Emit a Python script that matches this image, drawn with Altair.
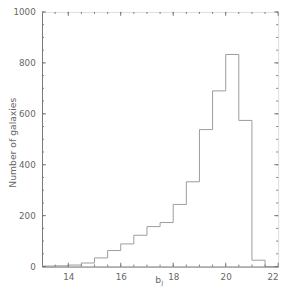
import altair as alt
import pandas as pd

# Histogram of b_J magnitudes (bin width 0.5)
bin_left = [13.0, 13.5, 14.0, 14.5, 15.0, 15.5, 16.0, 16.5, 17.0, 17.5,
            18.0, 18.5, 19.0, 19.5, 20.0, 20.5, 21.0, 21.5, 22.0]
counts = [2, 3, 6, 14, 34, 63, 89, 123, 157, 173,
          244, 333, 538, 690, 833, 574, 25, 0, 0]

x_major = [14, 16, 18, 20, 22]
x_minor = [13.5 + 0.5 * i for i in range(17)]
y_major = [0, 200, 400, 600, 800, 1000]
y_minor = [50 * i for i in range(21)]

W, H = 243, 262
AX = "#777777"
TXT = "#666666"
LINE = "#9a9a9a"
FONT = "DejaVu Sans"

hist = pd.DataFrame({"mag": bin_left, "n": counts})
xmaj = pd.DataFrame({"v": x_major})
xmin = pd.DataFrame({"v": x_minor})
ymaj = pd.DataFrame({"v": y_major})
ymin = pd.DataFrame({"v": y_minor})

xs = alt.Scale(domain=[13, 22], nice=False, zero=False)
ys = alt.Scale(domain=[0, 1000], nice=False)

base = alt.Chart(hist).mark_line(interpolate="step-after", color=LINE, strokeWidth=1).encode(
    x=alt.X("mag:Q", scale=xs,
            axis=alt.Axis(values=x_major, ticks=False, grid=False, title=None,
                          labelFontSize=9, labelColor=TXT, labelFont=FONT,
                          labelPadding=6, domainColor=AX, format="d")),
    y=alt.Y("n:Q", scale=ys,
            axis=alt.Axis(values=y_major, ticks=False, grid=False,
                          title="Number of galaxies", titleFontSize=9.5,
                          titleFontWeight="normal", titleColor=TXT, titleFont=FONT,
                          titleX=-30, titleY=H / 2 + 3, titleAngle=270,
                          titleAlign="center", titleBaseline="middle",
                          labelFontSize=9, labelColor=TXT, labelFont=FONT,
                          labelPadding=7, domainColor=AX, format="d")),
)

def xticks(df, length):
    bot = alt.Chart(df).mark_rule(color=AX, strokeWidth=1).encode(
        x=alt.X("v:Q", scale=xs), y=alt.value(H), y2=alt.value(H - length))
    top = alt.Chart(df).mark_rule(color=AX, strokeWidth=1).encode(
        x=alt.X("v:Q", scale=xs), y=alt.value(0), y2=alt.value(length))
    return bot + top

def yticks(df, length):
    left = alt.Chart(df).mark_rule(color=AX, strokeWidth=1).encode(
        y=alt.Y("v:Q", scale=ys), x=alt.value(0), x2=alt.value(length))
    right = alt.Chart(df).mark_rule(color=AX, strokeWidth=1).encode(
        y=alt.Y("v:Q", scale=ys), x=alt.value(W), x2=alt.value(W - length))
    return left + right

title_df = pd.DataFrame({"t": ["b"], "s": ["J"]})
tb = alt.Chart(title_df).mark_text(fontSize=9.5, color=TXT, font=FONT, align="center",
                                   baseline="alphabetic").encode(
    text="t:N", x=alt.value(W / 2 - 2), y=alt.value(H + 17))
tj = alt.Chart(title_df).mark_text(fontSize=6, color=TXT, font=FONT, align="left",
                                   baseline="alphabetic").encode(
    text="s:N", x=alt.value(W / 2 + 1.5), y=alt.value(H + 18.5))

chart = alt.layer(
    base,
    xticks(xmin, 2), xticks(xmaj, 4),
    yticks(ymin, 2), yticks(ymaj, 4),
    tb, tj,
).properties(
    width=W, height=H,
    autosize=alt.AutoSizeParams(type="none"),
    padding={"left": 35, "top": 0, "right": 6, "bottom": 19},
).configure_view(
    stroke=AX, strokeWidth=1
).configure(background="white")

chart.save("out.html", embed_options={"renderer": "svg", "actions": False})
